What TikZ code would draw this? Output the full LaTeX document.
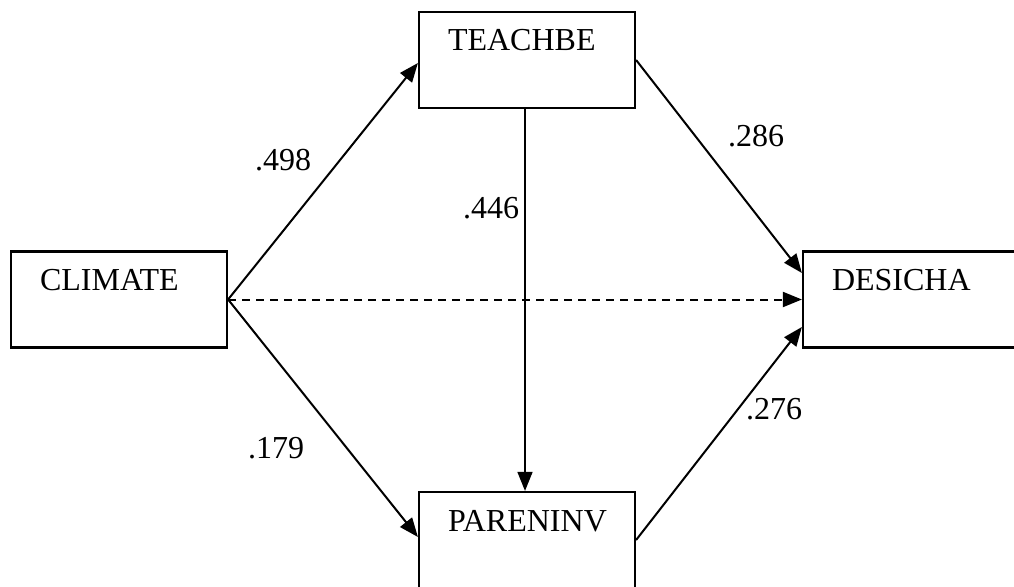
\documentclass[tikz,border=0pt]{standalone}
\usepackage{fontspec}
\setmainfont{Liberation Serif}
\usetikzlibrary{arrows.meta,calc}
\begin{document}
\begin{tikzpicture}[x=1pt,y=-1pt,
  box/.style={draw,line width=2.2pt,rectangle,minimum width=216pt,inner sep=0pt,
    text height=39pt,text depth=57pt,align=left,text width=158pt,font=\fontsize{32}{36}\selectfont},
  conn/.style={line width=2pt,-{Triangle[length=19pt,width=15pt]}},
  lab/.style={anchor=base west,inner sep=0pt,font=\fontsize{32}{36}\selectfont}]
\useasboundingbox (0,0) rectangle (1014,586);
\node[box] (clim)  at (119,299.5) {CLIMATE};
\node[box] (teach) at (527,60)    {TEACHBE};
\node[box] (paren) at (527,540)   {PARENINV};
\node[box] (desi)  at (911,299.5) {DESICHA};
\draw[conn] (clim.east) -- ($(teach.west)+(0,3)$);
\draw[conn] (clim.east) -- ($(paren.west)+(0,-3)$);
\draw[conn,dash pattern=on 8pt off 6pt] (clim.east) -- (desi.west);
\draw[conn] (teach.east) -- ($(desi.west)+(0,-26.5)$);
\draw[conn] (paren.east) -- ($(desi.west)+(0,27.5)$);
\draw[conn,line width=1.5pt] ($(teach.south)+(-2,0)$) -- ($(paren.north)+(-2,0)$);
\node[lab] (l1) at (255,170) {.498};
\node[lab] (l2) at (463,218) {.446};
\node[lab] (l3) at (728,146) {.286};
\node[lab] (l4) at (248,458) {.179};
\node[lab] (l5) at (746,419) {.276};
\end{tikzpicture}
\end{document}
